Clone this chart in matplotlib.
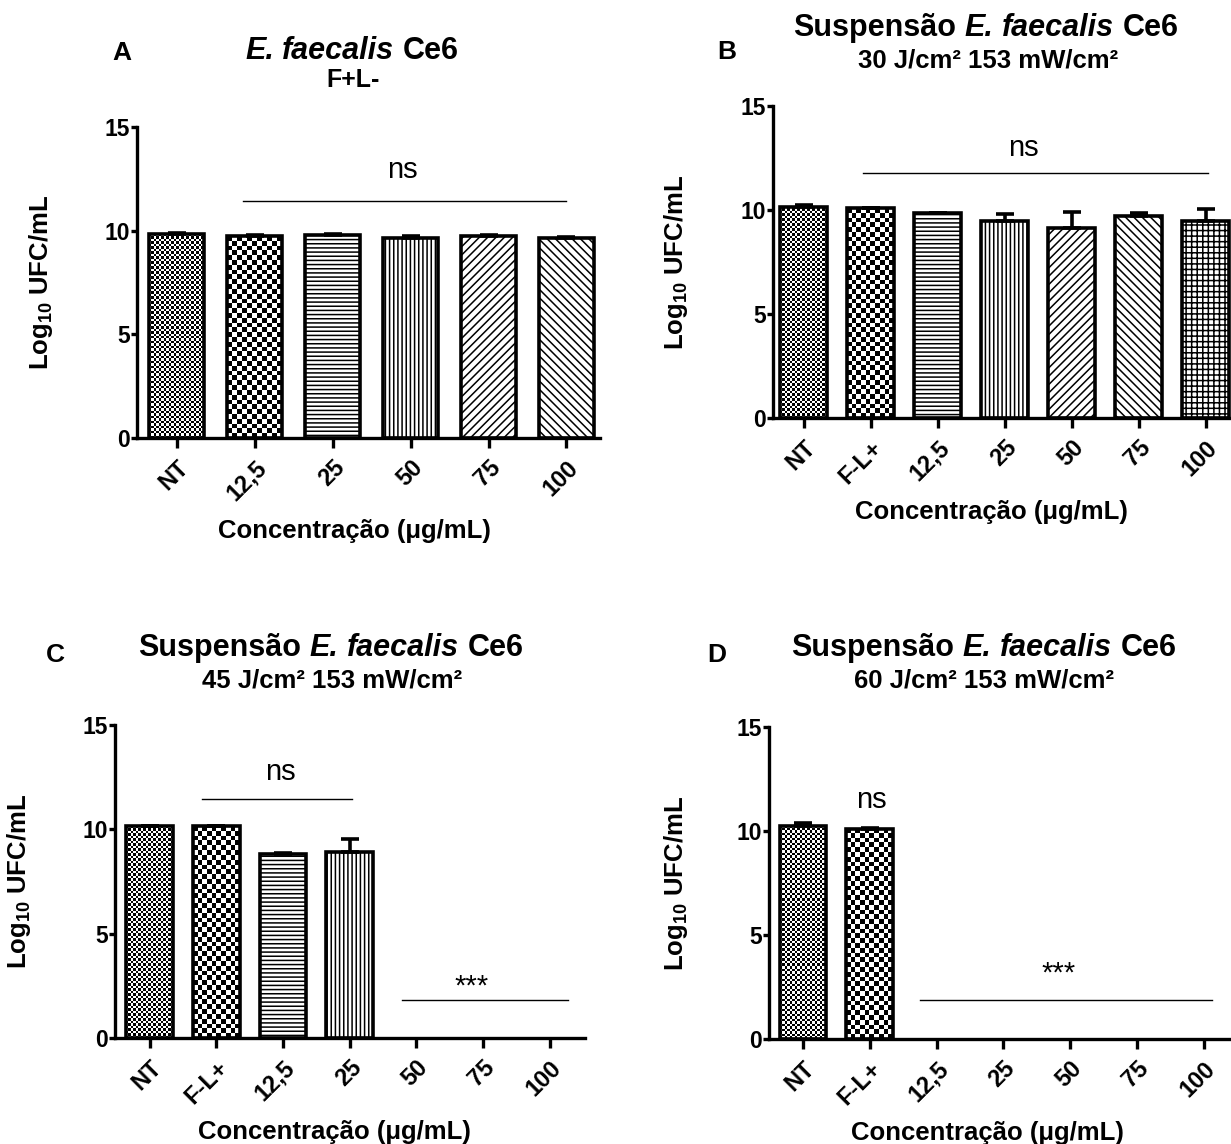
import numpy as np
import matplotlib
matplotlib.use("Agg")
import matplotlib.pyplot as plt

plt.rcParams['font.family'] = ['Liberation Sans', 'DejaVu Sans']
plt.rcParams['mathtext.fontset'] = 'custom'
plt.rcParams['mathtext.rm'] = 'Liberation Sans:bold'
plt.rcParams['mathtext.bf'] = 'Liberation Sans:bold'
plt.rcParams['hatch.linewidth'] = 1.1

# data (log10 UFC/mL, upper SEM)
labels_a = ['NT', '12,5', '25', '50', '75', '100']
means_a = [9.83, 9.74, 9.79, 9.66, 9.74, 9.63]
err_a = [0.07, 0.03, 0.03, 0.07, 0.06, 0.07]

labels_b = ['NT', 'F-L+', '12,5', '25', '50', '75', '100']
means_b = [10.16, 10.08, 9.84, 9.47, 9.12, 9.71, 9.49]
err_b = [0.1, 0.03, 0.03, 0.33, 0.78, 0.16, 0.54]

labels_c = ['NT', 'F-L+', '12,5', '25', '50', '75', '100']
means_c = [10.15, 10.15, 8.82, 8.91, 0, 0, 0]
err_c = [0.03, 0.03, 0.03, 0.62, 0, 0, 0]

labels_d = ['NT', 'F-L+', '12,5', '25', '50', '75', '100']
means_d = [10.25, 10.1, 0, 0, 0, 0, 0]
err_d = [0.12, 0.03, 0, 0, 0, 0, 0]

# fill styles: 'fine' / 'coarse' are checkerboards, others are hatches
fills_a = ['fine', 'coarse', '----', '||||', '////', '\\\\\\\\']
fills_b = ['fine', 'coarse', '----', '||||', '////', '\\\\\\\\', '+++']
fills_c = fills_b
fills_d = fills_b

W, H = 1231, 1144
fig = plt.figure(figsize=(W / 100, H / 100), dpi=100)


def px_axes(l, r, t, b):
    return fig.add_axes([l / W, 1 - b / H, (r - l) / W, (b - t) / H])


def checker(ax, bar, cell):
    x0, y0 = bar.get_x(), bar.get_y()
    w, h = bar.get_width(), bar.get_height()
    p0 = ax.transData.transform((x0, y0))
    p1 = ax.transData.transform((x0 + w, y0 + h))
    nx = max(1, int(round((p1[0] - p0[0]) / cell)))
    ny = max(1, int(round((p1[1] - p0[1]) / cell)))
    pat = np.add.outer(np.arange(ny), np.arange(nx)) % 2
    im = ax.imshow(pat, cmap='gray', vmin=0, vmax=1, extent=(x0, x0 + w, y0, y0 + h),
                   interpolation='nearest', aspect='auto', zorder=1.5)
    im.set_clip_path(bar)


def panel(ax, labels, means, errs, fills, xlim):
    x = np.arange(len(labels))
    means = np.array(means, float)
    errs = np.array(errs, float)
    ax.set_xlim(*xlim)
    ax.set_ylim(0, 15)
    bars = ax.bar(x, means, width=0.7, color='white', edgecolor='black',
                  linewidth=2.6, zorder=2)
    for b, f, m in zip(bars, fills, means):
        if m <= 0:
            b.set_visible(False)
            continue
        if f == 'fine':
            b.set_facecolor('none')
            checker(ax, b, 2.5)
        elif f == 'coarse':
            b.set_facecolor('none')
            checker(ax, b, 4.8)
        else:
            b.set_hatch(f)
    on = means > 0
    ax.errorbar(x[on], means[on], yerr=[np.zeros(on.sum()), errs[on]], fmt='none',
                ecolor='black', elinewidth=2.6, capsize=6.5, capthick=2.6, zorder=3)
    ax.set_xlim(*xlim)
    ax.set_ylim(0, 15)
    ax.set_xticks(x)
    ax.set_xticklabels(labels, rotation=45, ha='right', rotation_mode='anchor',
                       fontsize=17, fontweight='bold')
    ax.set_yticks([0, 5, 10, 15])
    ax.set_yticklabels(['0', '5', '10', '15'], fontsize=16.5, fontweight='bold')
    ax.tick_params(axis='x', length=7, width=2.4, pad=6)
    ax.tick_params(axis='y', length=4, width=2.4, pad=1)
    for s in ['top', 'right']:
        ax.spines[s].set_visible(False)
    for s in ['left', 'bottom']:
        ax.spines[s].set_linewidth(2.4)
    ax.set_ylabel('Log$_{10}$ UFC/mL', fontsize=18.5, fontweight='bold')
    ax.set_xlabel('Concentração (μg/mL)', fontsize=18.5, fontweight='bold')


def bracket(ax, x0, x1, y, txt, ty, tx):
    ax.plot([x0, x1], [y, y], color='black', lw=1.0, zorder=3)
    ax.text(tx, ty, txt, ha='center', va='center', fontsize=21)


# A
ax = px_axes(137, 600, 127, 438)
panel(ax, labels_a, means_a, err_a, fills_a, (-0.51, 5.43))
bracket(ax, 0.85, 5.0, 11.45, 'ns', 12.95, 2.9)
ax.yaxis.set_label_coords(-0.177, 0.5)
ax.xaxis.set_label_coords(0.469, -0.262)

# B
ax = px_axes(773, 1231, 106, 418)
panel(ax, labels_b, means_b, err_b, fills_b, (-0.46, 6.38))
bracket(ax, 0.88, 6.04, 11.8, 'ns', 13.0, 3.28)
ax.yaxis.set_label_coords(-0.181, 0.5)
ax.xaxis.set_label_coords(0.476, -0.262)

# C
ax = px_axes(115, 585, 725, 1038)
panel(ax, labels_c, means_c, err_c, fills_c, (-0.52, 6.53))
bracket(ax, 0.79, 3.04, 11.47, 'ns', 12.75, 1.96)
bracket(ax, 3.78, 6.28, 1.82, '***', 2.45, 4.83)
ax.yaxis.set_label_coords(-0.174, 0.5)
ax.xaxis.set_label_coords(0.466, -0.262)

# D
ax = px_axes(769, 1231, 727, 1039)
panel(ax, labels_d, means_d, err_d, fills_d, (-0.51, 6.41))
ax.text(1.03, 11.5, 'ns', ha='center', va='center', fontsize=21)
bracket(ax, 1.75, 6.13, 1.87, '***', 3.17, 3.82)
ax.yaxis.set_label_coords(-0.171, 0.5)
ax.xaxis.set_label_coords(0.472, -0.262)

renderer = fig.canvas.get_renderer()


def ftext(x, y, s, **kw):
    return fig.text(x / W, 1 - y / H, s, **kw)


def rich(x, y, pieces, size):
    # pieces of (word, style) centred on x, separated by single spaces
    space = 0.278 * size * 100 / 72
    items = []
    for word, st in pieces:
        t = ftext(0, y, word, fontsize=size, fontweight='bold', fontstyle=st,
                  ha='left', va='baseline')
        items.append((t, t.get_window_extent(renderer).width))
    total = sum(w for _, w in items) + space * (len(items) - 1)
    cur = x - total / 2
    for t, w in items:
        t.set_x(cur / W)
        cur += w + space


title_b = [('Suspensão', 'normal'), ('E.', 'italic'), ('faecalis', 'italic'), ('Ce6', 'normal')]
rich(352, 59, title_b[1:], 22)
ftext(353, 87, 'F+L-', fontsize=18, fontweight='bold', ha='center', va='baseline')
rich(986, 36, title_b, 22)
ftext(988, 67, '30 J/cm² 153 mW/cm²', fontsize=18.5, fontweight='bold', ha='center', va='baseline')
rich(331, 656, title_b, 22)
ftext(332, 687, '45 J/cm² 153 mW/cm²', fontsize=18.5, fontweight='bold', ha='center', va='baseline')
rich(984, 656, title_b, 22)
ftext(984, 687, '60 J/cm² 153 mW/cm²', fontsize=18.5, fontweight='bold', ha='center', va='baseline')

for lab, x, y in [('A', 122, 60), ('B', 727, 59), ('C', 55, 662), ('D', 717, 662)]:
    ftext(x, y, lab, fontsize=19, fontweight='bold', ha='center', va='baseline')

fig.savefig('out.png', dpi=100)
